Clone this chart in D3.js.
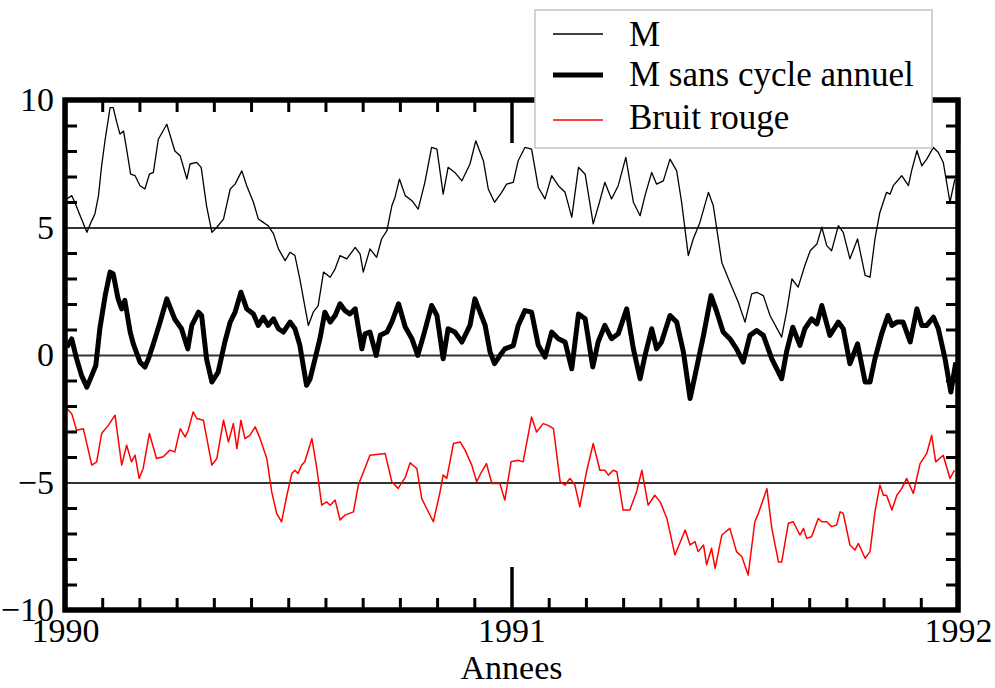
<!DOCTYPE html>
<html>
<head>
<meta charset="utf-8">
<script src="https://cdn.jsdelivr.net/npm/d3@7"></script>
<style>
  body { margin: 0; background: #fff; }
</style>
</head>
<body>
<div id="chart"></div>
<script>
// series: [annee, valeur]
const mData = [
  [1990.004, 6.12], [1990.015, 6.25], [1990.022, 5.99], [1990.034, 5.46], [1990.049, 4.81],
  [1990.060, 5.27], [1990.067, 5.53], [1990.075, 6.25], [1990.082, 7.42], [1990.090, 8.46],
  [1990.101, 9.70], [1990.108, 9.70], [1990.116, 9.12], [1990.123, 8.66], [1990.131, 8.79],
  [1990.138, 8.07], [1990.147, 7.09], [1990.157, 7.03], [1990.168, 6.64], [1990.179, 6.51],
  [1990.189, 7.09], [1990.198, 7.16], [1990.209, 8.46], [1990.228, 9.05], [1990.246, 8.00],
  [1990.258, 7.81], [1990.273, 6.90], [1990.280, 7.49], [1990.295, 7.55], [1990.305, 7.36],
  [1990.317, 5.85], [1990.329, 4.81], [1990.340, 5.01], [1990.355, 5.33], [1990.370, 6.51],
  [1990.381, 6.70], [1990.396, 7.22], [1990.407, 6.64], [1990.422, 5.99], [1990.433, 5.33],
  [1990.444, 5.20], [1990.455, 5.07], [1990.467, 4.75], [1990.478, 4.16], [1990.493, 3.70],
  [1990.504, 4.03], [1990.515, 3.90], [1990.526, 2.98], [1990.545, 1.16], [1990.556, 1.68],
  [1990.567, 1.94], [1990.579, 3.25], [1990.594, 3.05], [1990.605, 3.38], [1990.616, 3.90],
  [1990.631, 3.77], [1990.650, 4.22], [1990.661, 3.96], [1990.668, 3.25], [1990.683, 4.16],
  [1990.698, 3.83], [1990.709, 4.55], [1990.721, 4.88], [1990.732, 5.85], [1990.739, 6.18],
  [1990.749, 6.90], [1990.762, 6.25], [1990.777, 6.05], [1990.791, 5.72], [1990.806, 6.77],
  [1990.821, 8.14], [1990.833, 8.07], [1990.847, 6.31], [1990.858, 7.36], [1990.873, 7.16],
  [1990.889, 6.83], [1990.907, 7.49], [1990.920, 8.40], [1990.937, 7.62], [1990.948, 6.51],
  [1990.962, 5.99], [1990.978, 6.38], [1990.989, 6.70], [1991.004, 6.77], [1991.015, 7.62],
  [1991.030, 8.14], [1991.045, 8.07], [1991.060, 6.57], [1991.075, 6.12], [1991.090, 7.03],
  [1991.105, 6.64], [1991.120, 6.38], [1991.135, 5.40], [1991.150, 7.36], [1991.165, 7.09],
  [1991.183, 5.14], [1991.197, 5.99], [1991.209, 6.77], [1991.224, 6.12], [1991.239, 6.64],
  [1991.256, 7.75], [1991.273, 5.99], [1991.288, 5.46], [1991.299, 6.25], [1991.314, 7.16],
  [1991.325, 6.70], [1991.340, 6.83], [1991.355, 7.68], [1991.370, 7.22], [1991.381, 5.99],
  [1991.396, 3.90], [1991.407, 4.55], [1991.422, 5.20], [1991.441, 6.38], [1991.452, 5.85],
  [1991.471, 3.63], [1991.489, 2.85], [1991.508, 2.07], [1991.523, 1.29], [1991.538, 2.40],
  [1991.549, 2.46], [1991.564, 2.33], [1991.579, 1.55], [1991.605, 0.70], [1991.616, 1.68],
  [1991.628, 2.98], [1991.642, 2.66], [1991.657, 3.51], [1991.669, 4.09], [1991.684, 4.35],
  [1991.695, 5.01], [1991.706, 4.29], [1991.717, 4.09], [1991.732, 5.07], [1991.743, 4.81],
  [1991.758, 3.77], [1991.775, 4.55], [1991.792, 3.12], [1991.803, 3.05], [1991.814, 4.55],
  [1991.825, 5.59], [1991.840, 6.38], [1991.848, 6.31], [1991.855, 6.64], [1991.874, 7.03],
  [1991.889, 6.64], [1991.896, 7.22], [1991.908, 8.01], [1991.919, 7.42], [1991.930, 7.68],
  [1991.945, 8.14], [1991.956, 7.94], [1991.967, 7.55], [1991.982, 5.99], [1991.993, 6.90]
];

const mSansCycleData = [
  [1990.004, 0.31], [1990.015, 0.63], [1990.026, -0.15], [1990.037, -0.80], [1990.049, -1.26],
  [1990.060, -0.80], [1990.069, -0.41], [1990.078, 1.03], [1990.090, 2.33], [1990.101, 3.25],
  [1990.108, 3.18], [1990.119, 2.20], [1990.127, 1.81], [1990.134, 2.14], [1990.146, 0.90],
  [1990.153, 0.44], [1990.168, -0.28], [1990.179, -0.47], [1990.187, -0.15], [1990.198, 0.44],
  [1990.213, 1.29], [1990.228, 2.20], [1990.246, 1.40], [1990.261, 1.03], [1990.275, 0.24],
  [1990.284, 1.16], [1990.299, 1.68], [1990.306, 1.55], [1990.317, -0.15], [1990.329, -1.06],
  [1990.343, -0.67], [1990.358, 0.51], [1990.370, 1.29], [1990.381, 1.68], [1990.394, 2.46],
  [1990.407, 1.81], [1990.422, 1.61], [1990.433, 1.16], [1990.444, 1.48], [1990.455, 1.16],
  [1990.467, 1.42], [1990.478, 1.03], [1990.489, 0.90], [1990.504, 1.29], [1990.515, 1.03],
  [1990.526, 0.38], [1990.541, -1.19], [1990.549, -0.93], [1990.560, -0.15], [1990.571, 0.64],
  [1990.582, 1.68], [1990.594, 1.29], [1990.605, 1.55], [1990.616, 2.01], [1990.627, 1.74],
  [1990.638, 1.61], [1990.650, 1.81], [1990.665, 0.24], [1990.672, 0.83], [1990.683, 0.90],
  [1990.697, -0.02], [1990.706, 0.77], [1990.721, 0.90], [1990.732, 1.29], [1990.747, 2.01],
  [1990.762, 1.10], [1990.777, 0.64], [1990.790, -0.02], [1990.803, 0.77], [1990.821, 1.94],
  [1990.833, 1.55], [1990.847, -0.15], [1990.858, 1.03], [1990.873, 0.90], [1990.889, 0.51],
  [1990.907, 1.16], [1990.918, 2.20], [1990.941, 1.16], [1990.952, 0.12], [1990.962, -0.34],
  [1990.974, -0.02], [1990.985, 0.24], [1991.004, 0.37], [1991.015, 1.16], [1991.030, 1.74],
  [1991.045, 1.68], [1991.060, 0.38], [1991.075, -0.08], [1991.090, 0.90], [1991.105, 0.64],
  [1991.120, 0.51], [1991.135, -0.54], [1991.150, 1.61], [1991.165, 1.42], [1991.182, -0.47],
  [1991.194, 0.51], [1991.209, 1.16], [1991.224, 0.64], [1991.239, 0.83], [1991.258, 1.81],
  [1991.273, 0.24], [1991.288, -0.93], [1991.299, -0.02], [1991.314, 1.03], [1991.325, 0.24],
  [1991.336, 0.51], [1991.355, 1.55], [1991.370, 1.29], [1991.385, 0.12], [1991.400, -1.71],
  [1991.411, -0.80], [1991.430, 0.77], [1991.447, 2.33], [1991.460, 1.68], [1991.474, 0.90],
  [1991.489, 0.64], [1991.504, 0.24], [1991.519, -0.28], [1991.534, 0.77], [1991.549, 0.96],
  [1991.564, 0.77], [1991.583, -0.15], [1991.605, -0.93], [1991.616, 0.12], [1991.630, 1.09],
  [1991.646, 0.38], [1991.657, 1.03], [1991.672, 1.42], [1991.684, 1.22], [1991.695, 1.94],
  [1991.713, 0.77], [1991.732, 1.29], [1991.743, 1.03], [1991.758, -0.34], [1991.775, 0.44],
  [1991.792, -1.06], [1991.803, -1.06], [1991.814, -0.15], [1991.829, 0.83], [1991.843, 1.55],
  [1991.852, 1.16], [1991.863, 1.29], [1991.877, 1.29], [1991.893, 0.51], [1991.908, 1.81],
  [1991.919, 1.16], [1991.930, 1.16], [1991.945, 1.48], [1991.956, 1.03], [1991.971, -0.15],
  [1991.984, -1.45], [1991.995, -0.29]
];

const bruitRougeData = [
  [1990.004, -2.10], [1990.015, -2.30], [1990.026, -2.95], [1990.041, -2.89], [1990.060, -4.32],
  [1990.071, -4.19], [1990.082, -3.08], [1990.097, -2.76], [1990.112, -2.36], [1990.127, -4.32],
  [1990.138, -3.54], [1990.149, -4.19], [1990.157, -3.93], [1990.166, -4.84], [1990.175, -4.45],
  [1990.189, -3.08], [1990.205, -4.06], [1990.220, -3.99], [1990.235, -3.73], [1990.246, -3.80],
  [1990.258, -2.89], [1990.269, -3.21], [1990.276, -2.95], [1990.287, -2.23], [1990.295, -2.49],
  [1990.310, -2.56], [1990.329, -4.32], [1990.340, -4.06], [1990.355, -2.56], [1990.366, -3.41],
  [1990.377, -2.69], [1990.385, -3.67], [1990.394, -2.56], [1990.403, -3.28], [1990.414, -3.15],
  [1990.426, -2.82], [1990.437, -3.28], [1990.452, -4.06], [1990.463, -5.37], [1990.474, -6.21],
  [1990.485, -6.54], [1990.497, -5.50], [1990.508, -4.65], [1990.515, -4.52], [1990.522, -4.65],
  [1990.530, -4.32], [1990.537, -4.19], [1990.553, -3.28], [1990.564, -4.45], [1990.575, -5.89],
  [1990.586, -5.76], [1990.594, -5.89], [1990.605, -5.69], [1990.616, -6.47], [1990.627, -6.28],
  [1990.646, -6.15], [1990.657, -5.10], [1990.683, -3.93], [1990.717, -3.86], [1990.732, -4.97],
  [1990.746, -5.23], [1990.762, -4.80], [1990.773, -4.23], [1990.788, -4.45], [1990.799, -5.63],
  [1990.810, -6.02], [1990.825, -6.54], [1990.840, -5.37], [1990.847, -4.71], [1990.855, -4.84],
  [1990.870, -3.47], [1990.885, -3.41], [1990.896, -3.73], [1990.911, -4.32], [1990.922, -4.97],
  [1990.933, -4.58], [1990.944, -4.26], [1990.956, -5.04], [1990.974, -5.04], [1990.985, -5.69],
  [1990.999, -4.19], [1991.015, -4.13], [1991.026, -4.19], [1991.045, -2.43], [1991.056, -3.02],
  [1991.071, -2.69], [1991.082, -2.76], [1991.094, -2.89], [1991.109, -4.97], [1991.120, -5.10],
  [1991.131, -4.84], [1991.142, -5.10], [1991.153, -5.95], [1991.168, -4.58], [1991.183, -3.47],
  [1991.198, -4.52], [1991.209, -4.52], [1991.217, -4.71], [1991.228, -4.52], [1991.236, -4.58],
  [1991.250, -6.08], [1991.265, -6.08], [1991.280, -5.37], [1991.292, -4.52], [1991.306, -5.89],
  [1991.321, -5.50], [1991.333, -5.76], [1991.348, -6.41], [1991.366, -7.84], [1991.389, -6.86],
  [1991.400, -7.45], [1991.411, -7.32], [1991.418, -7.71], [1991.430, -7.45], [1991.437, -8.23],
  [1991.448, -7.58], [1991.456, -8.37], [1991.471, -7.06], [1991.489, -6.80], [1991.504, -7.71],
  [1991.516, -7.91], [1991.530, -8.63], [1991.545, -6.54], [1991.553, -6.21], [1991.572, -5.24],
  [1991.583, -6.80], [1991.598, -8.12], [1991.605, -8.12], [1991.620, -6.60], [1991.631, -6.54],
  [1991.646, -7.06], [1991.654, -6.80], [1991.661, -7.19], [1991.672, -7.13], [1991.687, -6.41],
  [1991.695, -6.54], [1991.706, -6.54], [1991.717, -6.73], [1991.728, -6.67], [1991.736, -6.15],
  [1991.743, -6.21], [1991.758, -7.45], [1991.769, -7.65], [1991.777, -7.39], [1991.792, -7.97],
  [1991.803, -7.71], [1991.814, -6.15], [1991.825, -5.10], [1991.833, -5.50], [1991.840, -5.50],
  [1991.852, -6.08], [1991.863, -5.50], [1991.874, -5.24], [1991.885, -4.84], [1991.900, -5.43],
  [1991.915, -4.26], [1991.930, -3.86], [1991.941, -3.15], [1991.950, -4.19], [1991.967, -3.93],
  [1991.982, -4.84], [1991.992, -4.52]
];

const xTickYears = [1990, 1991, 1992];
const yTickLabels = [-10, -5, 0, 5, 10];
const yGridValues = [-5, 0, 5];
const legendLabels = ["M", "M sans cycle annuel", "Bruit rouge"];
const xTitle = "Annees";

const serif = '"Liberation Serif", "Times New Roman", Times, "Nimbus Roman", "Nimbus Roman No9 L", FreeSerif, "Noto Serif", "DejaVu Serif", Tinos, serif';

const margin = {top: 100, right: 37, bottom: 78, left: 65},
    width = 995 - margin.left - margin.right,
    height = 688 - margin.top - margin.bottom;

const svg = d3.select("#chart")
  .append("svg")
    .attr("width", 995)
    .attr("height", 688)
    .style("font-family", serif);

const g = svg.append("g")
    .attr("transform", `translate(${margin.left},${margin.top})`);

const x = d3.scaleLinear().domain([1990, 1992]).range([0, width]);
const y = d3.scaleLinear().domain([-10, 10]).range([height, 0]);

// horizontal lines at -5, 0, 5
g.append("g")
  .call(d3.axisLeft(y).tickValues(yGridValues).tickSize(-width).tickFormat(""))
  .call(a => a.select(".domain").remove())
  .call(a => a.selectAll("line").attr("stroke", "#333").attr("stroke-width", 1.8));

// the curves
const line = d3.line().x(d => x(d[0])).y(d => y(d[1]));

g.append("path").datum(mData)
  .attr("fill", "none").attr("stroke", "#000").attr("stroke-width", 1.3)
  .attr("stroke-linejoin", "round").attr("d", line);

g.append("path").datum(mSansCycleData)
  .attr("fill", "none").attr("stroke", "#000").attr("stroke-width", 5)
  .attr("stroke-linejoin", "round").attr("d", line);

g.append("path").datum(bruitRougeData)
  .attr("fill", "none").attr("stroke", "#ff0000").attr("stroke-width", 1.5)
  .attr("stroke-linejoin", "round").attr("d", line);

// ticks (pointing inside the frame)
const monthTicks = d3.range(1, 24).map(i => 1990 + i / 12).filter(v => Math.abs(v - 1991) > 1e-6);
const unitTicks = d3.range(-9, 10).filter(v => v % 5 !== 0);

function styleTicks(a, w) {
  a.select(".domain").remove();
  a.selectAll("line").attr("stroke", "#000").attr("stroke-width", w);
}

function styleText(a, size) {
  a.attr("font-family", null);
  a.selectAll("text").attr("font-size", size).style("font-family", serif).attr("fill", "#000");
}

g.append("g").attr("transform", `translate(0,${height})`)
  .call(d3.axisBottom(x).tickValues(monthTicks).tickSize(-12).tickFormat(""))
  .call(a => styleTicks(a, 3));
g.append("g")
  .call(d3.axisTop(x).tickValues(monthTicks).tickSize(-12).tickFormat(""))
  .call(a => styleTicks(a, 3));
g.append("g")
  .call(d3.axisLeft(y).tickValues(unitTicks).tickSize(-12).tickFormat(""))
  .call(a => styleTicks(a, 3));
g.append("g").attr("transform", `translate(${width},0)`)
  .call(d3.axisRight(y).tickValues(unitTicks).tickSize(-12).tickFormat(""))
  .call(a => styleTicks(a, 3));

// major ticks + labels
g.append("g").attr("transform", `translate(0,${height})`)
  .call(d3.axisBottom(x).tickValues(xTickYears).tickSize(-43).tickPadding(8).tickFormat(d3.format("d")))
  .call(a => styleTicks(a, 3.5))
  .call(a => styleText(a, 34));
g.append("g")
  .call(d3.axisTop(x).tickValues(xTickYears).tickSize(-43).tickFormat(""))
  .call(a => styleTicks(a, 3.5));
g.append("g")
  .call(d3.axisLeft(y).tickValues(yTickLabels).tickSize(0).tickPadding(11).tickFormat(d3.format("d")))
  .call(a => a.select(".domain").remove())
  .call(a => styleText(a, 34));

// frame
g.append("rect")
  .attr("width", width).attr("height", height)
  .attr("fill", "none").attr("stroke", "#000").attr("stroke-width", 5.5);

// axis title
svg.append("text")
  .attr("x", margin.left + width / 2).attr("y", 679)
  .attr("text-anchor", "middle").attr("font-size", 34)
  .style("font-family", serif)
  .text(xTitle);

// legend
const legend = svg.append("g");
legend.append("rect")
  .attr("x", 535).attr("y", 10).attr("width", 397).attr("height", 138)
  .attr("fill", "#fff").attr("stroke", "#c4c4c4").attr("stroke-width", 1.5);

const legendStyles = [
  {color: "#000", w: 1.3},
  {color: "#000", w: 5},
  {color: "#ff0000", w: 1.5}
];
const legendY = [34, 75, 120];
const legendBase = [46, 86, 129];

legendLabels.forEach((lab, i) => {
  legend.append("line")
    .attr("x1", 553).attr("x2", 603).attr("y1", legendY[i]).attr("y2", legendY[i])
    .attr("stroke", legendStyles[i].color).attr("stroke-width", legendStyles[i].w);
  legend.append("text")
    .attr("x", 629).attr("y", legendBase[i])
    .attr("font-size", 35)
    .style("font-family", serif)
    .text(lab);
});
</script>
</body>
</html>
